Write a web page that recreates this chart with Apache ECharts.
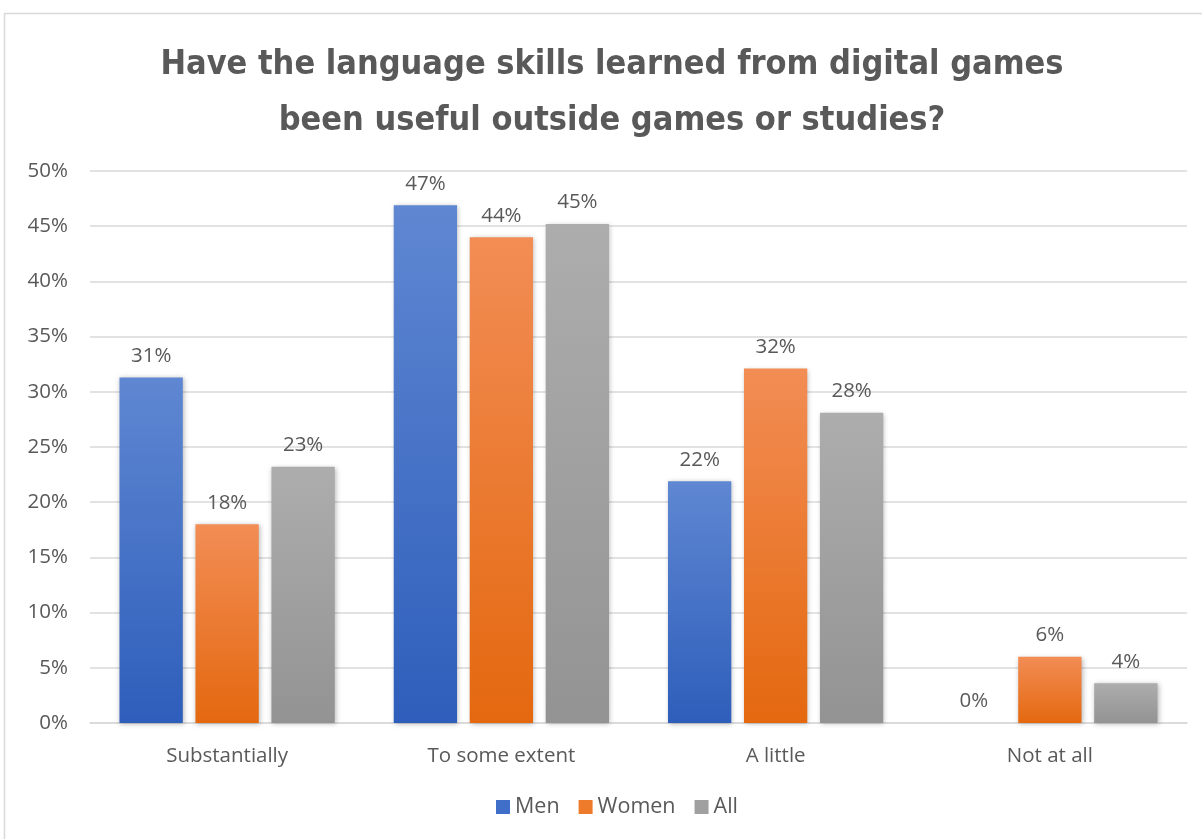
<!DOCTYPE html>
<html>
<head>
<meta charset="utf-8">
<style>
  html, body { margin: 0; padding: 0; background: #ffffff; }
  #chart { width: 1202px; height: 839px; }
</style>
<script src="https://cdn.jsdelivr.net/npm/echarts@6/dist/echarts.min.js"></script>
</head>
<body>
<div id="chart"></div>
<script>
// Survey answers, share of respondents (%)
const categories = ['Substantially', 'To some extent', 'A little', 'Not at all'];
const menValues = [31.3, 46.9, 21.9, 0];
const womenValues = [18.0, 44.0, 32.1, 6.0];
const allValues = [23.2, 45.2, 28.1, 3.6];
const seriesNames = ['Men', 'Women', 'All'];
const titleLines = [
  'Have the language skills learned from digital games',
  'been useful outside games or studies?'
];

const textColor = '#595959';
const bodyFont = '"Open Sans", Lato, sans-serif';
const bodySize = 20.5;

function grad(top, bottom) {
  return new echarts.graphic.LinearGradient(0, 0, 0, 1, [
    { offset: 0, color: top },
    { offset: 1, color: bottom }
  ]);
}

const palette = [
  grad('#5f87d2', '#2e5ebb'),
  grad('#f28d55', '#e4680f'),
  grad('#adadad', '#939393')
];
const legendColors = ['#3f6fc8', '#ee7a2c', '#a0a0a0'];

function makeSeries(name, values, i) {
  return {
    name: name,
    type: 'bar',
    data: values,
    barGap: '20%',
    barCategoryGap: '21.5%',
    itemStyle: {
      color: palette[i],
      shadowBlur: 5,
      shadowColor: 'rgba(0,0,0,0.28)',
      shadowOffsetX: 1,
      shadowOffsetY: 1
    },
    label: {
      show: true,
      position: 'top',
      distance: 11,
      color: textColor,
      fontFamily: bodyFont,
      fontSize: bodySize,
      formatter: p => Math.round(p.value) + '%'
    }
  };
}

const chart = echarts.init(document.getElementById('chart'));
chart.setOption({
  backgroundColor: '#ffffff',
  animation: false,
  color: legendColors,
  graphic: [
    {
      type: 'rect',
      shape: { x: 4.5, y: 13.5, width: 1300, height: 1000 },
      style: { fill: 'none', stroke: '#d9d9d9', lineWidth: 1.5 },
      z: -1
    },
    {
      type: 'text',
      x: 612,
      y: 37,
      style: {
        text: titleLines.join('\n'),
        align: 'center',
        verticalAlign: 'top',
        fontFamily: '"Liberation Sans Narrow", "DejaVu Sans Condensed", sans-serif',
        fontWeight: 'bold',
        fontSize: 34,
        lineHeight: 56,
        fill: textColor
      }
    }
  ],
  legend: {
    data: seriesNames.map((n, i) => ({ name: n, itemStyle: { color: legendColors[i] } })),
    bottom: 16,
    left: 491,
    icon: 'rect',
    itemWidth: 14,
    itemHeight: 14,
    itemGap: 19,
    textStyle: { color: textColor, fontFamily: bodyFont, fontSize: 21.5 }
  },
  grid: { left: 90, right: 15, top: 171, bottom: 116 },
  xAxis: {
    type: 'category',
    data: categories,
    axisLine: { lineStyle: { color: '#d9d9d9', width: 1.5 } },
    axisTick: { show: false },
    axisLabel: { color: textColor, fontFamily: bodyFont, fontSize: bodySize, margin: 23 }
  },
  yAxis: {
    type: 'value',
    min: 0,
    max: 50,
    interval: 5,
    axisLine: { show: false },
    axisTick: { show: false },
    splitLine: { lineStyle: { color: '#d9d9d9', width: 1.5 } },
    axisLabel: { color: textColor, fontFamily: bodyFont, fontSize: bodySize, margin: 22, formatter: '{value}%' }
  },
  series: [
    makeSeries('Men', menValues, 0),
    makeSeries('Women', womenValues, 1),
    makeSeries('All', allValues, 2)
  ]
});
</script>
</body>
</html>
